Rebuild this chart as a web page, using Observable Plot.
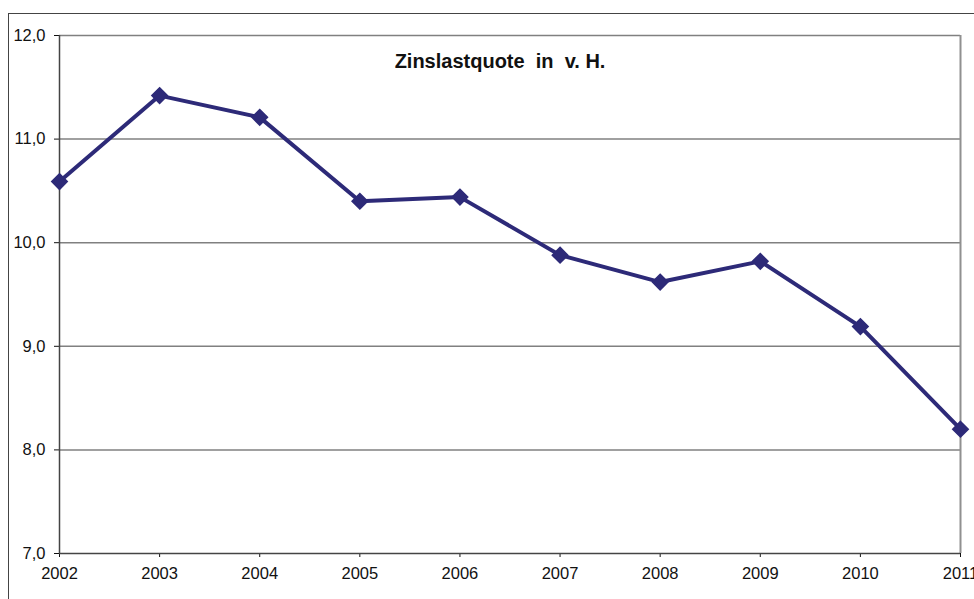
<!DOCTYPE html>
<html>
<head>
<meta charset="utf-8">
<script src="https://cdn.jsdelivr.net/npm/d3@7"></script>
<script src="https://cdn.jsdelivr.net/npm/@observablehq/plot@0.6"></script>
<style>
  html, body { margin: 0; padding: 0; background: #fff; overflow: hidden; }
  #wrap { position: relative; width: 974px; height: 599px; }
  #frame { position: absolute; left: 8px; top: 13px; width: 1000px; height: 1000px;
           border-left: 1.5px solid #444; border-top: 1.5px solid #444; }
  #chart { position: absolute; left: 0; top: 0; }
  #chart svg { overflow: visible; }
</style>
</head>
<body>
<div id="wrap"><div id="frame"></div><div id="chart"></div></div>
<script>
const years = [2002, 2003, 2004, 2005, 2006, 2007, 2008, 2009, 2010, 2011];
const zinslastquote = [10.59, 11.42, 11.21, 10.40, 10.44, 9.88, 9.62, 9.82, 9.19, 8.20];
const yTicks = [7, 8, 9, 10, 11, 12];
const gridLines = [8, 9, 10, 11, 12];
const title = "Zinslastquote  in  v. H.";

const data = years.map((y, i) => ({year: y, value: zinslastquote[i]}));
const fmt = d => d.toFixed(1).replace(".", ",");
const navy = "#2d2a78";

const chart = Plot.plot({
  width: 974,
  height: 599,
  marginLeft: 59,
  marginRight: 14,
  marginTop: 35,
  marginBottom: 46,
  style: {fontFamily: "'Liberation Sans', Arial, sans-serif", fontSize: "16.5px", color: "#111", background: "transparent"},
  x: {domain: [2002, 2011], ticks: years, tickFormat: "d", label: null, tickSize: 4, tickPadding: 10},
  y: {domain: [7, 12], ticks: yTicks, tickFormat: fmt, label: null, tickSize: 5, tickPadding: 9},
  marks: [
    Plot.ruleY(gridLines, {stroke: "#808080", strokeWidth: 1.5}),
    Plot.ruleX([years[years.length - 1]], {stroke: "#909090", strokeWidth: 2}),
    Plot.ruleX([years[0]], {stroke: "#444", strokeWidth: 1.5}),
    Plot.ruleY([yTicks[0]], {stroke: "#444", strokeWidth: 1.5}),
    Plot.line(data, {x: "year", y: "value", stroke: navy, strokeWidth: 4}),
    Plot.dot(data, {x: "year", y: "value", symbol: "diamond2", r: 7, fill: navy, stroke: navy}),
    Plot.text([title], {frameAnchor: "top", dy: 18, dx: -10, fontSize: 20, fontWeight: "bold", fill: "#111"})
  ]
});
document.getElementById("chart").appendChild(chart);
</script>
</body>
</html>
